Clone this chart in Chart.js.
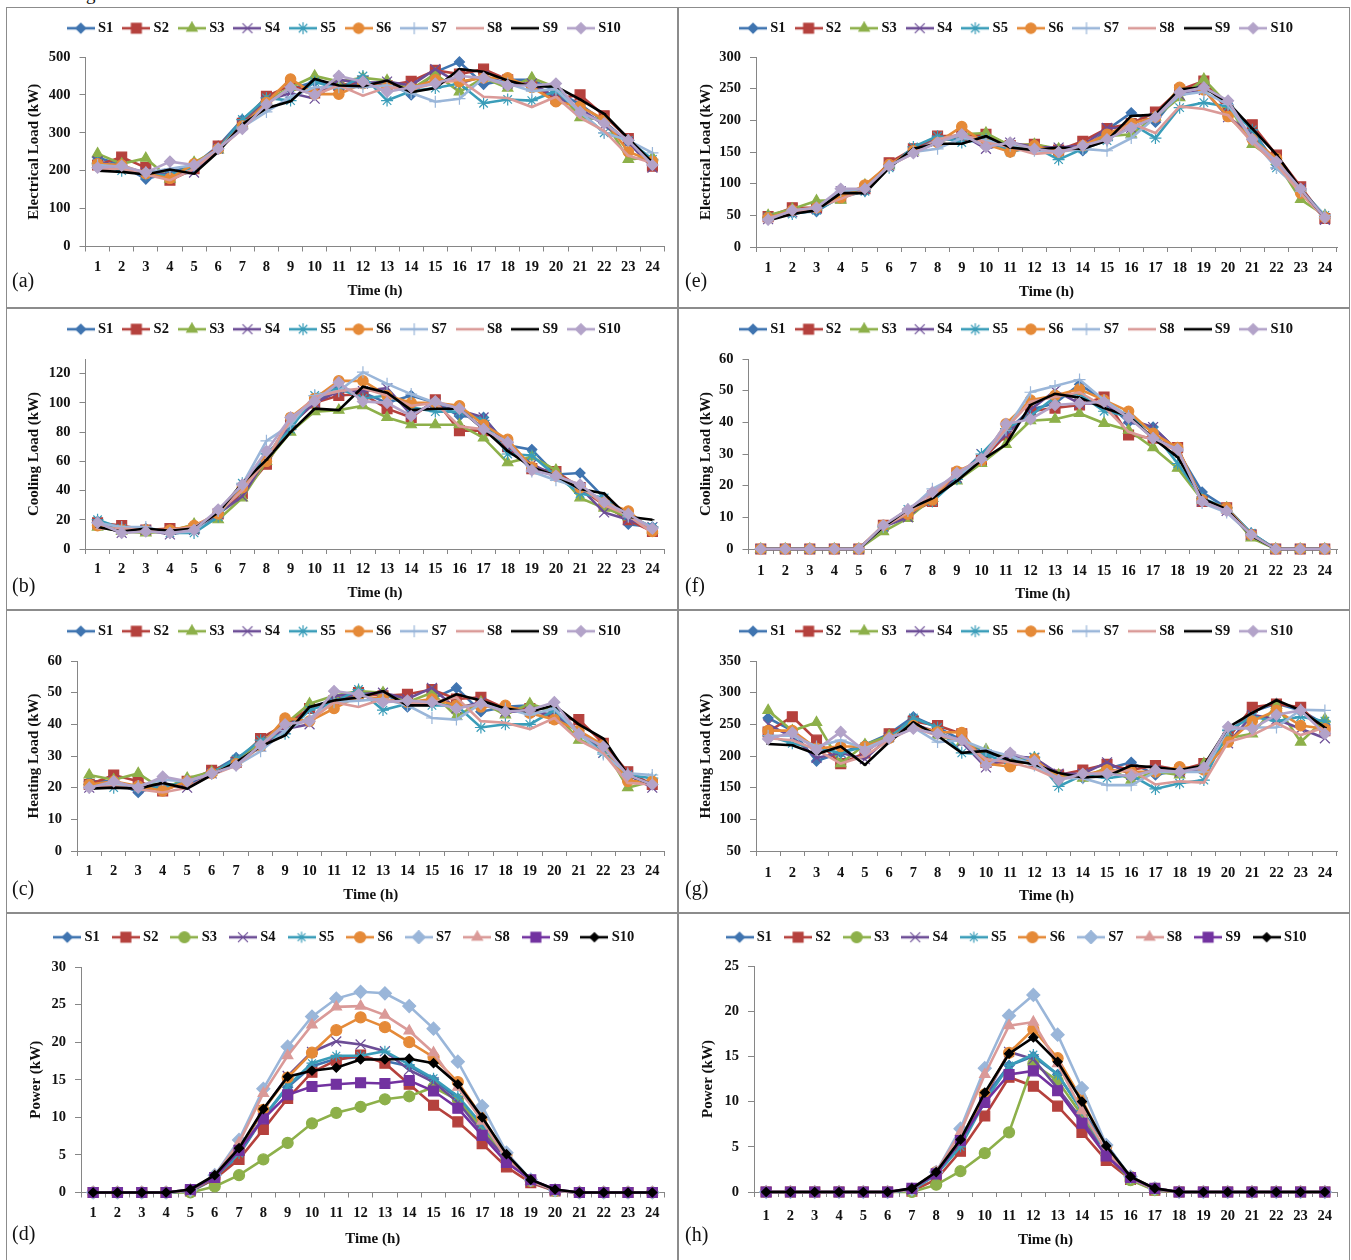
<!DOCTYPE html>
<html>
<head>
<meta charset="utf-8">
<title>Load and power profiles</title>
<script src="https://cdn.jsdelivr.net/npm/chart.js@4"></script>
<style>
  body { margin: 0; background: #fff; width: 1351px; height: 1260px; overflow: hidden; position: relative; font-family: "Liberation Serif", serif; }
  .panel { position: absolute; border: 1px solid #8c8c8c; box-sizing: border-box; }
  .panel canvas { position: absolute; left: 0; top: 0; }
  .tag { position: absolute; font-size: 20px; color: #111; }
  #cut { position: absolute; left: 86px; top: -17px; font-size: 19px; color: #111; }
</style>
</head>
<body>
<div id="cut">g</div>
<script>
const hours = ['1','2','3','4','5','6','7','8','9','10','11','12','13','14','15','16','17','18','19','20','21','22','23','24'];
const names = ['S1','S2','S3','S4','S5','S6','S7','S8','S9','S10'];

// (a) electrical load
const aS1 = [235,215,178,195,215,265,335,385,415,435,425,430,435,400,460,487,428,440,440,410,375,330,275,215];
const aS2 = [215,236,208,175,205,265,325,396,425,405,425,435,425,436,465,455,468,440,425,390,400,345,285,212];
const aS3 = [245,218,233,178,222,255,320,385,420,450,435,445,438,415,455,408,445,418,445,420,340,335,230,235];
const aS4 = [225,210,195,190,195,258,320,385,405,390,440,430,435,425,468,430,450,430,430,395,365,320,275,208];
const aS5 = [220,200,190,188,210,258,335,392,385,435,415,450,385,410,418,430,378,388,385,410,355,300,280,230];
const aS6 = [218,215,192,180,218,258,318,380,442,402,402,430,420,418,440,435,445,445,420,382,370,335,250,225];
const aS7 = [215,210,195,205,215,258,315,355,395,420,420,420,425,405,382,390,445,430,410,415,355,300,280,247];
const aS8 = [205,205,190,175,205,255,310,375,420,400,425,398,420,415,430,440,395,392,368,395,340,305,240,220];
const aS9 = [200,197,190,203,192,250,322,365,383,442,425,423,438,407,418,468,461,438,422,422,388,350,285,222];
const aS10 = [208,213,195,224,215,258,310,375,420,400,450,435,408,420,430,450,445,425,425,430,355,325,280,215];

// (b) cooling load
const bS1 = [19,13,14,12,13,25,44,62,88,100,110,107,100,105,100,91,90,71,68,51,52,35,17,15];
const bS2 = [18,16,13,14,14,24,38,58,85,100,105,106,96,90,102,81,81,70,55,53,42,30,20,12];
const bS3 = [15,12,11,12,17,20,35,60,80,94,95,98,90,85,85,85,76,59,63,54,35,28,22,13];
const bS4 = [17,11,13,10,13,24,36,62,85,100,108,108,110,92,100,95,90,70,58,50,42,25,20,15];
const bS5 = [20,14,13,11,11,22,45,65,82,105,110,103,105,97,94,94,88,65,64,50,38,35,23,15];
const bS6 = [16,13,13,13,16,24,42,60,90,103,115,115,105,100,100,98,85,75,56,50,42,32,26,12];
const bS7 = [18,15,15,11,12,26,44,74,85,105,108,121,113,106,100,96,82,73,53,47,42,33,22,15];
const bS8 = [14,14,13,13,15,25,40,62,88,104,108,110,105,98,100,84,82,72,55,50,44,30,23,11];
const bS9 = [15,12,14,12.5,14,25,45,61,80,96,95,111,107,95,96,96,82,67,56,50,41,38,22,20];
const bS10 = [18,11,12,11,13,27,44,67,90,101,114,101,100,91,101,96,82,73,54,50,44,32,24,14];

// (c) heating load
const cS1 = [22,22,18.5,21,21,25,29.5,33,39,45,48,49,50,45.5,48,51.5,44,45.5,46,44,38,32,24,21];
const cS2 = [21,24,22,19,22,25.5,28,35.5,40,45,47.5,50,49,49.5,51,48,48.5,45,45,42,41.5,34,25,21];
const cS3 = [24,22.5,24.5,19.5,23,25,28,34,40,46.5,49,50.5,50,47,50,42.5,47,43,46.5,44,35,33,20,22];
const cS4 = [20,22,20,21,20,24.5,28,33,38.5,40,49,49.5,50,48,51.5,45,47,44,44,43,38,31,24,20];
const cS5 = [21,20,20,20,22,24.5,29,35,37,44.5,47,51,44.5,46.5,46,46,39,40,40,44.5,37,31,24,23];
const cS6 = [21,22,20.5,19,22,24.5,27.5,33,42,41,45,49,48,47,48,46,45.5,46,43.5,41.5,38,33.5,22,22];
const cS7 = [20,21,20.5,22.5,22,24.5,27,31.5,38,42,47,47.5,48,46,42,41.5,46.5,45,43,45,37,30.5,24.5,24];
const cS8 = [20,20.5,19.5,18.5,20,24,27,33,40,41,47,45.5,48,46.5,47,48.5,41,40.5,38.5,42,35,31,21.5,21];
const cS9 = [19.7,20,19.7,21.5,19.7,24,28,33,36.5,45.5,47.5,48.5,50.5,46,46,49.5,47.5,45,44,46,40,35.5,24,21];
const cS10 = [20,22,20,23.5,22,24.5,27,33.5,40,41,50.5,49.5,47,47.5,47,45,46.5,44,44.5,47,37,33,24,21];

// (d) power
const dS1 = [0,0,0,0,0.1,1.8,5,10,14,16.8,17.8,18,17.5,16.8,15,12.5,8.5,5,1.5,0.2,0,0,0,0];
const dS2 = [0,0,0,0,0.2,1.8,4.4,8.4,12.5,16,17.6,18.3,17.2,14.4,11.6,9.4,6.5,3.4,1.3,0.2,0,0,0,0];
const dS3 = [0,0,0,0,0,0.8,2.3,4.4,6.6,9.2,10.6,11.4,12.4,12.8,14,12.3,8.5,4.5,1.5,0.2,0,0,0,0];
const dS4 = [0,0,0,0,0.2,2,5.5,11,15.5,18.7,20.1,19.7,18.8,16.3,14.7,12,8,4.5,1.5,0.2,0,0,0,0];
const dS5 = [0,0,0,0,0.2,2,5.2,10,14.2,17.2,18.2,18.2,18.8,17,15.2,12.8,9,5,1.6,0.3,0,0,0,0];
const dS6 = [0,0,0,0,0.3,2,5.7,11,15.3,18.6,21.6,23.3,22,20,18,14.7,10,5,1.6,0.3,0,0,0,0];
const dS7 = [0,0,0,0,0.3,2.3,7,13.8,19.4,23.4,25.8,26.7,26.5,24.8,21.8,17.4,11.5,5.3,1.7,0.3,0,0,0,0];
const dS8 = [0,0,0,0,0.3,2.2,6.6,13.2,18.2,22.3,24.7,24.8,23.6,21.5,18.6,14,9.5,4.5,1.5,0.3,0,0,0,0];
const dS9 = [0,0,0,0,0.4,2,5.6,9.8,13,14.1,14.4,14.6,14.5,14.9,13.5,11.2,7.6,4,1.7,0.4,0,0,0,0];
const dS10 = [0,0,0,0,0.4,2.3,5.9,11.1,15.4,16.2,16.6,17.7,17.7,17.8,17.2,14.4,10,5.1,1.7,0.4,0,0,0,0];

// (e) electrical load
const eS1 = [46,54,56,80,88,130,155,170,170,175,152,160,155,152,185,212,197,245,258,225,185,130,92,48];
const eS2 = [48,62,62,78,92,133,155,175,175,178,160,162,153,167,187,195,213,248,262,215,193,145,95,45];
const eS3 = [50,60,73,74,98,128,150,165,178,180,160,162,155,158,175,178,205,236,265,225,162,135,75,50];
const eS4 = [44,55,60,88,92,128,150,168,178,155,165,158,157,160,188,188,205,240,248,205,178,130,92,43];
const eS5 = [47,52,58,78,88,125,158,175,165,170,150,158,138,155,168,195,172,220,228,222,185,125,90,50];
const eS6 = [46,58,62,78,98,130,152,165,190,162,150,160,150,160,178,195,205,252,248,206,170,140,85,47];
const eS7 = [44,55,62,88,92,128,150,155,172,168,160,152,150,155,152,172,205,240,245,225,170,125,88,50];
const eS8 = [46,55,62,76,90,128,148,170,178,165,158,147,150,158,170,195,180,222,218,208,165,130,85,45];
const eS9 = [42,52,58,85,85,125,155,163,163,175,157,153,157,155,168,207,209,249,252,228,187,146,92,46];
const eS10 = [43,58,62,92,92,128,148,165,178,158,165,155,150,160,170,188,205,244,252,231,170,135,92,46];

// (f) cooling load
const fS1 = [0,0,0,0,0,7,11,16,23,29,37,44,46,52,47,40,38.5,31,18,13,5,0,0,0];
const fS2 = [0,0,0,0,0,7.5,11,15,24,28,36,43.5,44.5,45.5,48,36,35,32,15,13,4.5,0,0,0];
const fS3 = [0,0,0,0,0,5.5,9.7,16,21.5,27,33,40.5,41,42.8,39.7,37.5,32,25.5,15.5,13,3.5,0,0,0];
const fS4 = [0,0,0,0,0,7,10,17,22.5,30,36,44,50,46,46,41,38.5,31,15,12,4.5,0,0,0];
const fS5 = [0,0,0,0,0,7,12.5,15,22,30,38,42,48,49,43.5,42,37,27,16,13,5,0,0,0];
const fS6 = [0,0,0,0,0,7.5,11,15.5,24.5,28,39.5,47,48.5,50.5,47,43.5,36.5,32,15.5,13,4.5,0,0,0];
const fS7 = [0,0,0,0,0,7,12,19,23,28,37.5,49.5,51.5,53.5,47,42,35,31,14.5,11.5,4.5,0,0,0];
const fS8 = [0,0,0,0,0,7,11.5,17,24,28.5,38,46.5,48,49.5,45,37,34.5,31,15,12.5,4.5,0,0,0];
const fS9 = [0,0,0,0,0,7,12.5,16,21.5,28,33,45.5,49,47.8,44.5,42,35,29,16,12.5,4.3,0,0,0];
const fS10 = [0,0,0,0,0,7.5,12.5,18,24,28.5,39.5,41,45.5,46,46.5,41.5,35,31.5,15,12,4.5,0,0,0];

// (g) heating load
const gS1 = [260,240,192,205,218,235,262,245,225,205,195,195,170,165,180,190,170,178,185,235,270,283,272,250];
const gS2 = [238,262,225,188,205,235,255,248,235,190,190,190,170,178,187,178,185,178,188,228,277,282,277,240];
const gS3 = [272,240,253,188,218,232,252,232,222,210,195,197,170,165,182,162,175,170,188,228,235,280,222,258];
const gS4 = [250,230,197,205,195,230,250,238,222,182,200,197,172,172,190,170,178,175,180,220,265,258,243,228];
const gS5 = [232,220,212,205,215,228,260,245,205,202,188,198,152,170,165,170,148,157,162,240,262,255,262,255];
const gS6 = [240,240,212,215,215,228,248,238,237,188,183,195,165,170,178,175,175,183,178,222,255,272,248,243];
const gS7 = [232,232,215,225,212,228,245,222,225,210,200,185,165,165,154,154,175,175,175,242,245,245,273,272];
const gS8 = [228,225,210,188,200,225,245,232,225,195,190,180,163,170,175,178,155,160,158,222,233,252,233,245];
const gS9 = [219,217,203,215,186,222,253,232,205,208,193,187,173,166,168,185,182,178,185,245,268,288,272,245];
const gS10 = [227,237,210,238,208,228,243,235,225,185,205,192,162,172,172,168,178,175,182,246,243,265,272,235];

// (h) power
const hS1 = [0,0,0,0,0,0,0.2,2,5.5,10.5,14,15,13,9,5.3,1.6,0.3,0,0,0,0,0,0,0];
const hS2 = [0,0,0,0,0,0,0.1,1.4,4.5,8.4,12.7,11.7,9.5,6.6,3.5,1.4,0.2,0,0,0,0,0,0,0];
const hS3 = [0,0,0,0,0,0,0,0.8,2.3,4.3,6.6,14.2,12.3,8.5,4.2,1.3,0.2,0,0,0,0,0,0,0];
const hS4 = [0,0,0,0,0,0,0.2,2,5.7,10.5,15.5,14.7,11.5,8,4.2,1.5,0.3,0,0,0,0,0,0,0];
const hS5 = [0,0,0,0,0,0,0.2,1.9,5,10,14,15.2,13,9,4.3,1.5,0.3,0,0,0,0,0,0,0];
const hS6 = [0,0,0,0,0,0,0.3,2.2,5.8,10.8,15.4,18,14.8,10.2,5,1.7,0.4,0,0,0,0,0,0,0];
const hS7 = [0,0,0,0,0,0,0.3,2.2,7,13.7,19.5,21.8,17.4,11.5,5.2,1.7,0.4,0,0,0,0,0,0,0];
const hS8 = [0,0,0,0,0,0,0.3,2.2,6.6,13,18.4,18.8,14.2,9,4.5,1.5,0.3,0,0,0,0,0,0,0];
const hS9 = [0,0,0,0,0,0,0.4,2,5.7,9.9,13,13.4,11.2,7.6,4,1.6,0.4,0,0,0,0,0,0,0];
const hS10 = [0,0,0,0,0,0,0.4,2.2,5.8,11,15.3,17.1,14.4,10,5.1,1.7,0.4,0,0,0,0,0,0,0];

// line colours and marker shapes, the load charts and the power charts differ
const loadColors = ['#3f74b0','#b5413d','#8db04a','#6c4d96','#3a9db9','#e58a38','#9ab6d9','#da9a98','#000000','#b3a3c9'];
const loadMarks = ['rectRot','rect','triangle','crossRot','star','circle','cross','line','line','rectRot'];
const loadSizes = [5,7,6,7,6,5.2,6,2,2,5.5];
const powerColors = ['#3f74b0','#b5413d','#8db04a','#6c4d96','#3a9db9','#e58a38','#9ab6d9','#da9a98','#7232a0','#000000'];
const powerMarks = ['rectRot','rect','circle','crossRot','star','circle','rectRot','triangle','rect','rectRot'];
const powerSizes = [5,7,5.5,7,5.5,5.5,6.5,6,7,4.5];

const panels = [
  {tag:'(a)', series:[aS1,aS2,aS3,aS4,aS5,aS6,aS7,aS8,aS9,aS10], yTitle:'Electrical Load (kW)', min:0, max:500, step:100, power:false,
   box:[6,7,672,301], plot:[84.5,663.5,56,245.5], legendY:26, xTickPad:7, xTitleY:290, yTitleX:33, tagXY:[12,269]},
  {tag:'(b)', series:[bS1,bS2,bS3,bS4,bS5,bS6,bS7,bS8,bS9,bS10], yTitle:'Cooling Load (kW)', min:0, max:130, step:20, power:false,
   box:[6,308,672,302], plot:[84.5,663.5,358,548], legendY:329, xTickPad:6.5, xTitleY:592, yTitleX:33, tagXY:[12,574]},
  {tag:'(c)', series:[cS1,cS2,cS3,cS4,cS5,cS6,cS7,cS8,cS9,cS10], yTitle:'Heating Load (kW)', min:0, max:60, step:10, power:false,
   box:[6,610,672,303], plot:[76,663.5,660,850], legendY:631, xTickPad:6.5, xTitleY:894, yTitleX:33, tagXY:[12,877]},
  {tag:'(d)', series:[dS1,dS2,dS3,dS4,dS5,dS6,dS7,dS8,dS9,dS10], yTitle:'Power (kW)', min:0, max:30, step:5, power:true,
   box:[6,913,672,350], plot:[80,663.5,966,1191.5], legendY:935, xTickPad:7, xTitleY:1238, yTitleX:35, tagXY:[12,1222]},
  {tag:'(e)', series:[eS1,eS2,eS3,eS4,eS5,eS6,eS7,eS8,eS9,eS10], yTitle:'Electrical Load (kW)', min:0, max:300, step:50, power:false,
   box:[678,7,672,301], plot:[755,1336,56,246], legendY:27, xTickPad:7.5, xTitleY:291, yTitleX:705, tagXY:[685,269]},
  {tag:'(f)', series:[fS1,fS2,fS3,fS4,fS5,fS6,fS7,fS8,fS9,fS10], yTitle:'Cooling Load (kW)', min:0, max:60, step:10, power:false,
   box:[678,308,672,302], plot:[747.5,1336,358,548], legendY:329, xTickPad:9, xTitleY:593, yTitleX:705, tagXY:[685,574]},
  {tag:'(g)', series:[gS1,gS2,gS3,gS4,gS5,gS6,gS7,gS8,gS9,gS10], yTitle:'Heating Load (kW)', min:50, max:350, step:50, power:false,
   box:[678,610,672,303], plot:[755,1336,660,850], legendY:631, xTickPad:8.5, xTitleY:895, yTitleX:705, tagXY:[685,877]},
  {tag:'(h)', series:[hS1,hS2,hS3,hS4,hS5,hS6,hS7,hS8,hS9,hS10], yTitle:'Power (kW)', min:0, max:25, step:5, power:true,
   box:[678,913,672,350], plot:[753,1336,965,1191], legendY:935, xTickPad:10.5, xTitleY:1239, yTitleX:707, tagXY:[685,1223]}
];

const tickFont = {family:'"Liberation Serif", serif', size:14.5, weight:'bold'};
const titleFont = {family:'"Liberation Serif", serif', size:15, weight:'bold'};
const axisGrey = '#868686';

// legend key: a short bit of line with the marker on it, like in the sheet
function legendKey(color, mark, size) {
  const c = document.createElement('canvas');
  c.width = 28;
  c.height = 14;
  const k = c.getContext('2d');
  k.strokeStyle = color;
  k.lineWidth = 2.6;
  k.beginPath();
  k.moveTo(0, 7);
  k.lineTo(28, 7);
  k.stroke();
  k.fillStyle = color;
  k.lineWidth = 1.2;
  Chart.helpers.drawPoint(k, {pointStyle:mark, radius:size, rotation:0, borderWidth:1.2}, 14, 7);
  return c;
}

// the legend box height is set by hand so the plot top lands where it should,
// and the row is pushed 10px right of centre
const fixLegend = {
  id: 'fixLegend',
  beforeInit(chart) {
    const fit = chart.legend.fit;
    chart.legend.fit = function() {
      fit.call(this);
      this.height = chart.options.plugins.fixLegend.height;
      this.lineWidths[0] -= 20;
    };
  }
};

function makeChart(p) {
  const colors = p.power ? powerColors : loadColors;
  const marks = p.power ? powerMarks : loadMarks;
  const sizes = p.power ? powerSizes : loadSizes;

  const div = document.createElement('div');
  div.className = 'panel';
  div.style.left = p.box[0] + 'px';
  div.style.top = p.box[1] + 'px';
  div.style.width = p.box[2] + 'px';
  div.style.height = p.box[3] + 'px';
  const canvas = document.createElement('canvas');
  canvas.width = p.box[2];
  canvas.height = p.box[3];
  canvas.style.width = p.box[2] + 'px';
  canvas.style.height = p.box[3] + 'px';
  div.appendChild(canvas);
  document.body.appendChild(div);

  const tag = document.createElement('div');
  tag.className = 'tag';
  tag.style.left = p.tagXY[0] + 'px';
  tag.style.top = p.tagXY[1] + 'px';
  tag.textContent = p.tag;
  document.body.appendChild(tag);

  const labelPad = p.power ? 16 : 13;
  const padTop = Math.max(0, p.legendY - p.box[1] - labelPad - 8);

  new Chart(canvas, {
    type: 'line',
    plugins: [fixLegend],
    data: {
      labels: hours,
      datasets: names.map((n, i) => ({
        label: n,
        data: p.series[i],
        borderColor: colors[i],
        backgroundColor: colors[i],
        pointBackgroundColor: colors[i],
        pointBorderColor: colors[i],
        borderWidth: 2.6,
        pointStyle: marks[i],
        pointRadius: sizes[i],
        pointBorderWidth: 1.2,
        tension: 0,
        clip: false,
        order: 9 - i
      }))
    },
    options: {
      responsive: false,
      animation: false,
      devicePixelRatio: 1,
      layout: { padding: { top: padTop, right: p.box[0] + p.box[2] - p.plot[1], left: 0, bottom: 0 } },
      plugins: {
        fixLegend: { height: p.plot[2] - p.box[1] - padTop },
        tooltip: { enabled: false },
        legend: {
          display: true,
          position: 'top',
          labels: {
            usePointStyle: true,
            pointStyleWidth: 20,
            padding: labelPad,
            color: '#111',
            font: tickFont,
            generateLabels(chart) {
              return names.map((n, i) => ({
                text: n,
                datasetIndex: i,
                fontColor: '#111',
                pointStyle: legendKey(colors[i], marks[i], sizes[i])
              }));
            }
          }
        }
      },
      scales: {
        x: {
          type: 'category',
          offset: true,
          afterFit(s) { s.height = p.box[1] + p.box[3] - p.plot[3]; },
          border: { color: axisGrey, width: 1 },
          grid: { offset: true, drawOnChartArea: false, drawTicks: true, tickLength: 5, color: axisGrey },
          ticks: { color: '#111', font: tickFont, padding: p.xTickPad, maxRotation: 0, autoSkip: false },
          title: {
            display: true,
            text: 'Time (h)',
            color: '#111',
            font: titleFont,
            padding: { top: 0, bottom: p.box[1] + p.box[3] - p.xTitleY - 9 }
          }
        },
        y: {
          min: p.min,
          max: p.max,
          afterFit(s) { s.width = p.plot[0] - p.box[0]; },
          border: { color: axisGrey, width: 1 },
          grid: { drawOnChartArea: false, drawTicks: true, tickLength: 6, color: axisGrey },
          ticks: { stepSize: p.step, includeBounds: false, color: '#111', font: tickFont, padding: 9 },
          title: {
            display: true,
            text: p.yTitle,
            color: '#111',
            font: titleFont,
            padding: { top: p.yTitleX - p.box[0] - 9, bottom: 0 }
          }
        }
      }
    }
  });
}

panels.forEach(makeChart);
</script>
</body>
</html>
